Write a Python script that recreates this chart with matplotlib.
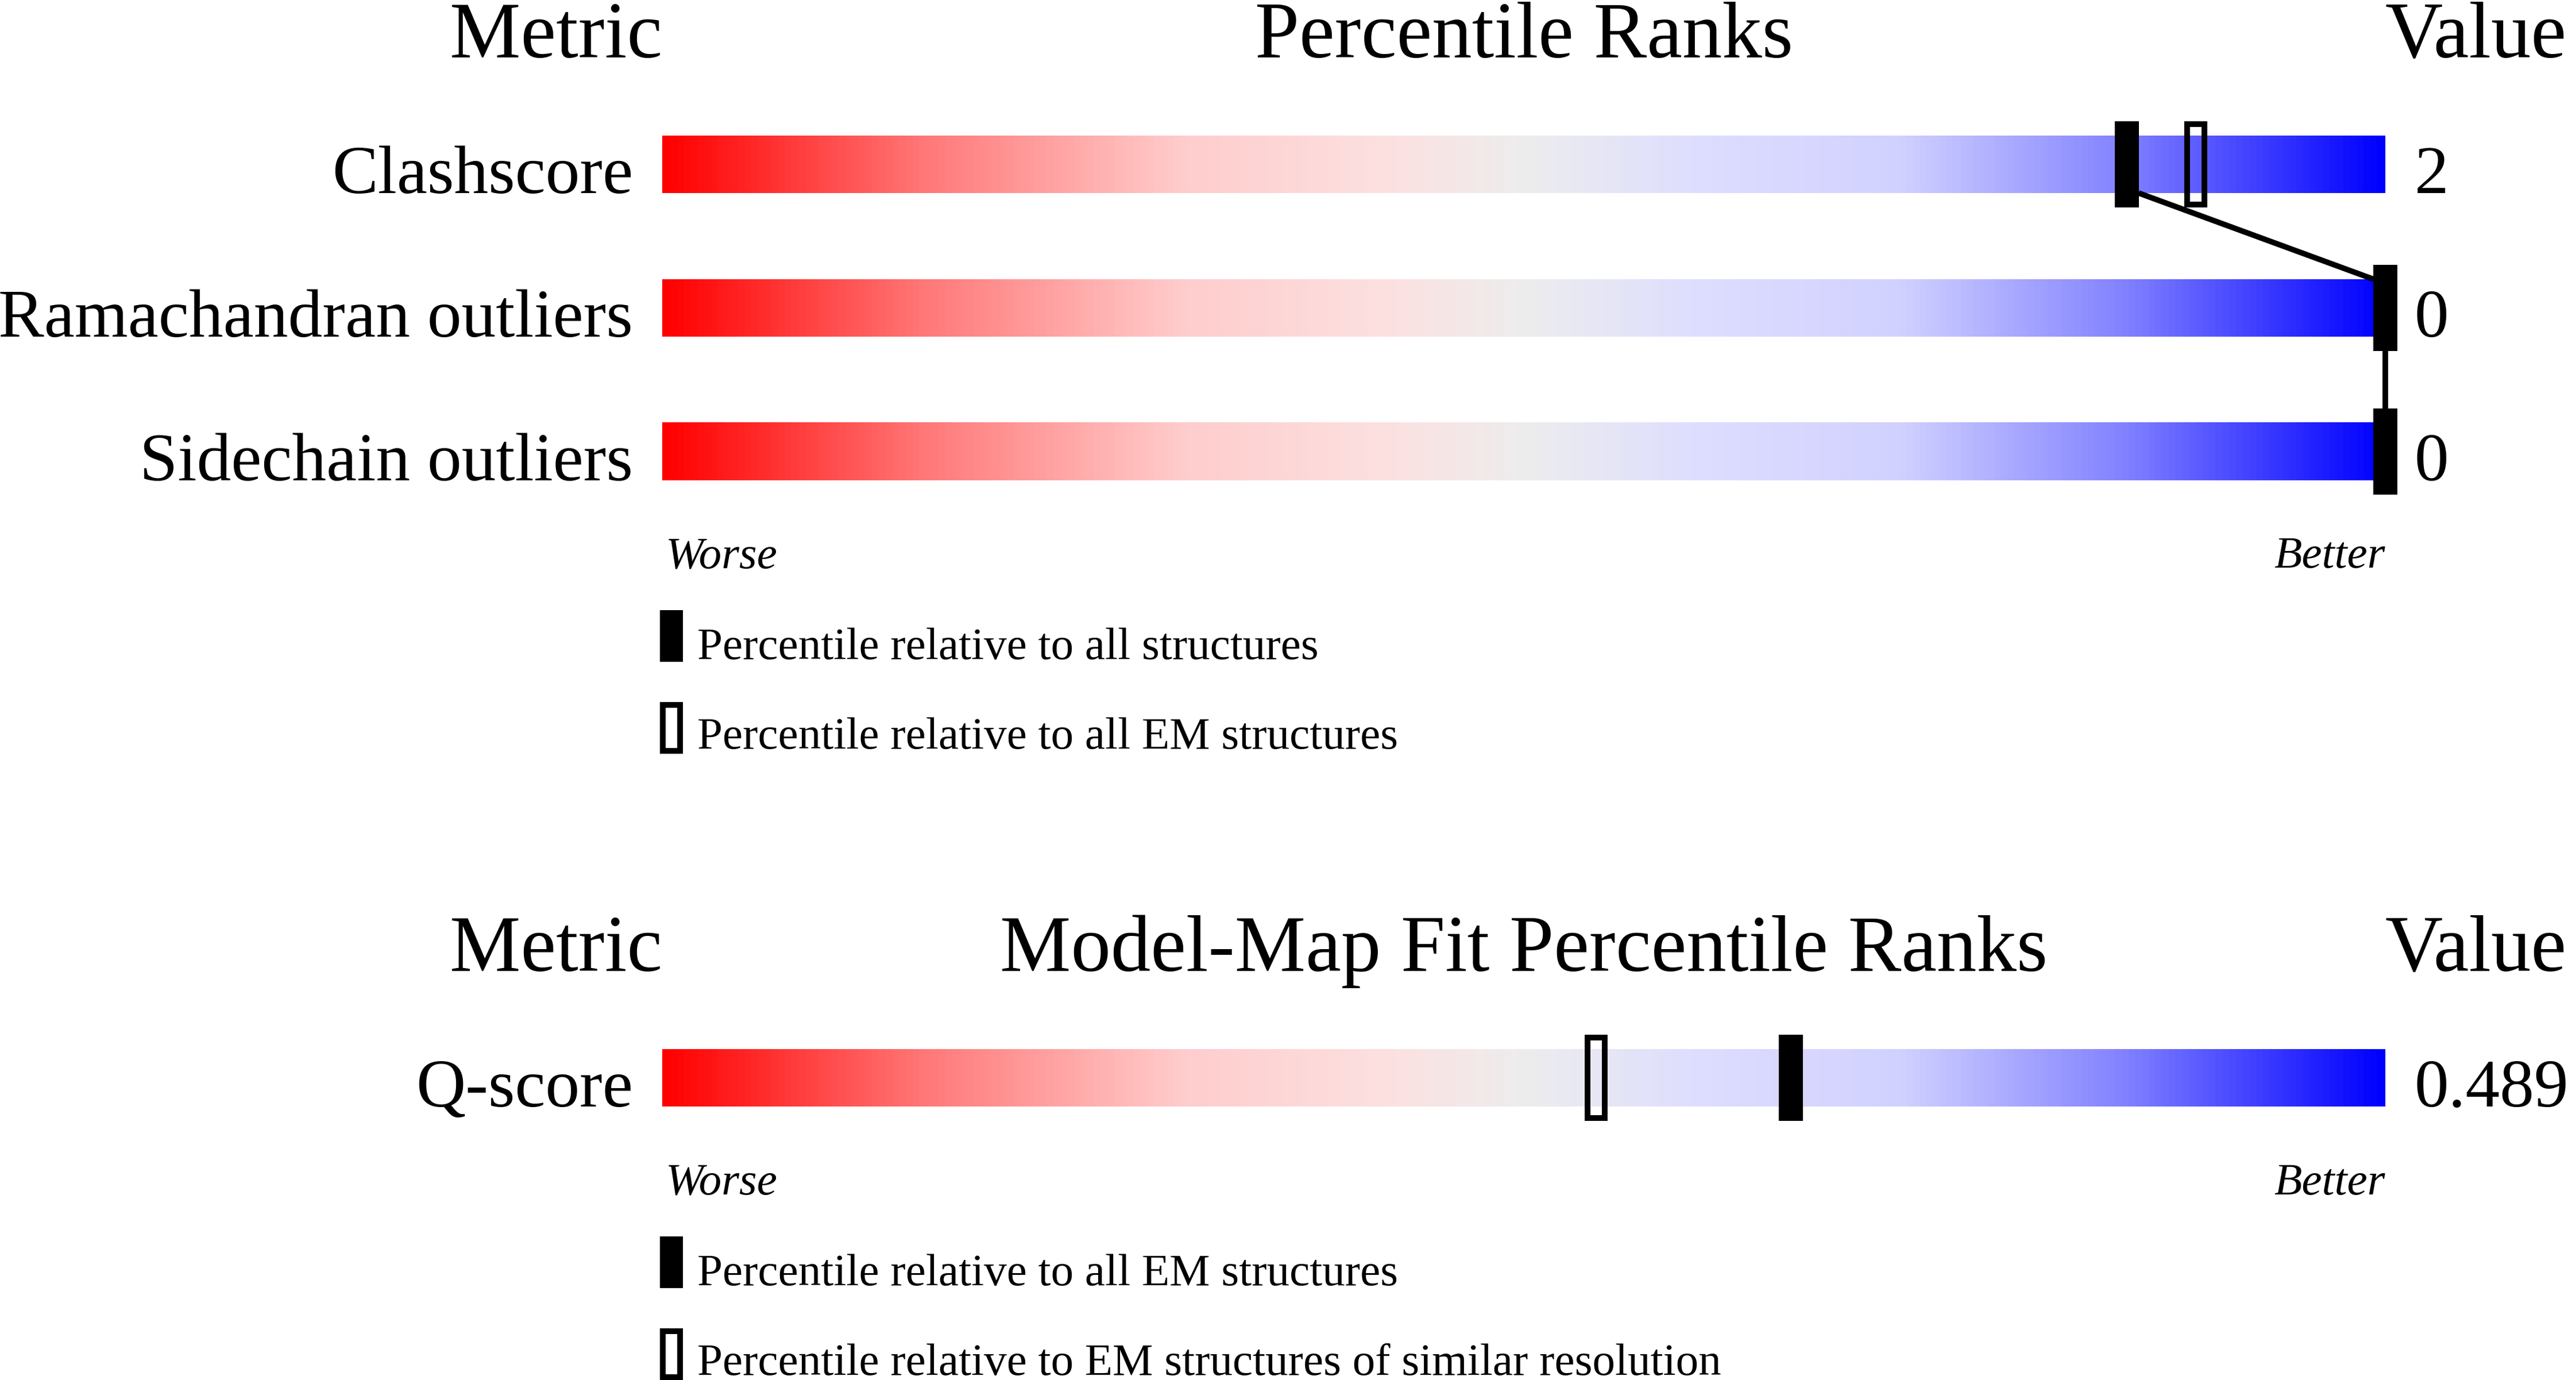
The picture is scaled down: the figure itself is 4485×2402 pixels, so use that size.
import numpy as np
import matplotlib
matplotlib.use('Agg')
import matplotlib.pyplot as plt
from matplotlib.colors import LinearSegmentedColormap
from matplotlib.patches import Rectangle

plt.rcParams['font.family'] = ['Liberation Serif', 'DejaVu Serif']

# top panel: geometry validation
metrics_top = ['Clashscore', 'Ramachandran outliers', 'Sidechain outliers']
pct_all = [85, 100, 100]
pct_em = [89, np.nan, np.nan]
values_top = ['2', '0', '0']
legend_top = ['Percentile relative to all structures',
              'Percentile relative to all EM structures']

# bottom panel: model-map fit
metrics_bot = ['Q-score']
pct_em_all = [65.5]
pct_similar = [54.2]
values_bot = ['0.489']
legend_bot = ['Percentile relative to all EM structures',
              'Percentile relative to EM structures of similar resolution']

W, H = 4485, 2402
fig = plt.figure(figsize=(W / 100, H / 100), dpi=100)
fig.patch.set_facecolor('white')

stops = [(0.0, (1.0, 0.0, 0.0)),
         (0.15, (1.0, 0.47, 0.47)),
         (0.30, (1.0, 0.80, 0.80)),
         (0.42, (0.99, 0.88, 0.88)),
         (0.50, (0.93, 0.93, 0.93)),
         (0.60, (0.87, 0.87, 1.0)),
         (0.72, (0.82, 0.82, 1.0)),
         (0.85, (0.51, 0.51, 1.0)),
         (1.0, (0.0, 0.0, 1.0))]
cmap = LinearSegmentedColormap.from_list('slider', stops)
grad = np.linspace(0, 1, 512).reshape(1, -1)

bar_h = 0.40
mark_w, mark_h = 1.37, 0.60
open_w, open_h = 1.03, 0.56
open_lw = 7.2
lab_fs, head_fs, small_fs = 86, 100, 57


def make_axes(top_px, nrows):
    ax = fig.add_axes([1153 / W, 1 - (top_px + 250 * nrows) / H,
                       3000 / W, 250 * nrows / H])
    ax.set_xlim(0, 100)
    ax.set_ylim(nrows - 0.5, -0.5)
    ax.axis('off')
    return ax


def draw_panel(ax, title, metrics, vals, filled, hollow, legend):
    n = len(metrics)
    ax.text(0, -0.745, 'Metric', ha='right', va='baseline', fontsize=head_fs)
    ax.text(50, -0.745, title, ha='center', va='baseline', fontsize=head_fs)
    ax.text(100, -0.745, 'Value', ha='left', va='baseline', fontsize=head_fs)
    for i in range(n):
        ax.imshow(grad, cmap=cmap, aspect='auto', interpolation='bilinear',
                  extent=[0, 100, i + bar_h / 2, i - bar_h / 2], zorder=1)
        ax.text(-1.7, i + 0.2, metrics[i], ha='right', va='baseline', fontsize=lab_fs)
        ax.text(101.7, i + 0.2, vals[i], ha='left', va='baseline', fontsize=lab_fs)
    # connector between consecutive filled markers
    for i in range(n - 1):
        x1, x2 = filled[i], filled[i + 1]
        dx = 0 if x1 == x2 else mark_w / 2
        ax.plot([x1 + dx, x2 - dx], [i + bar_h / 2, i + 1 - bar_h / 2],
                color='black', lw=7, solid_capstyle='butt', zorder=2, clip_on=False)
    for i in range(n):
        if not np.isnan(hollow[i]):
            ax.add_patch(Rectangle((hollow[i] - open_w / 2, i - open_h / 2), open_w, open_h,
                                   facecolor='none', edgecolor='black', lw=open_lw, zorder=3,
                                   clip_on=False))
        ax.add_patch(Rectangle((filled[i] - mark_w / 2, i - mark_h / 2), mark_w, mark_h,
                               facecolor='black', edgecolor='none', zorder=4, clip_on=False))
    last = n - 1
    ax.text(0.2, last + 0.81, 'Worse', ha='left', va='baseline', fontsize=small_fs, style='italic')
    ax.text(100, last + 0.81, 'Better', ha='right', va='baseline', fontsize=small_fs, style='italic')
    # legend
    ax.add_patch(Rectangle((-0.13, last + 1.104), 1.33, 0.36, facecolor='black',
                           edgecolor='none', clip_on=False))
    ax.text(2.03, last + 1.444, legend[0], ha='left', va='baseline', fontsize=small_fs)
    ax.add_patch(Rectangle((0.53 - 0.51, last + 1.924 - 0.161), 1.02, 0.322, facecolor='none',
                           edgecolor='black', lw=open_lw, clip_on=False))
    ax.text(2.03, last + 2.07, legend[1], ha='left', va='baseline', fontsize=small_fs)


ax_top = make_axes(161, len(metrics_top))
draw_panel(ax_top, 'Percentile Ranks', metrics_top, values_top, pct_all, pct_em, legend_top)

ax_bot = make_axes(1751, len(metrics_bot))
draw_panel(ax_bot, 'Model-Map Fit Percentile Ranks', metrics_bot, values_bot,
           pct_em_all, pct_similar, legend_bot)

fig.savefig('out.png', dpi=100, facecolor='white')
